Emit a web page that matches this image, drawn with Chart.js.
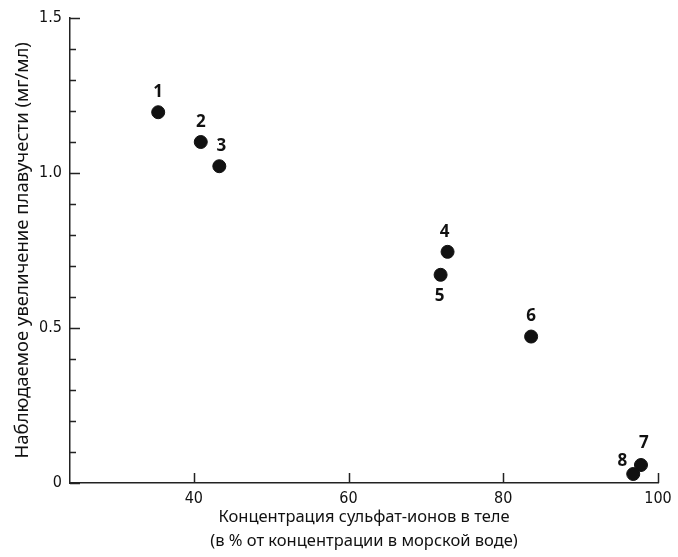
<!DOCTYPE html>
<html>
<head>
<meta charset="utf-8">
<script src="https://cdn.jsdelivr.net/npm/chart.js@4"></script>
<style>
  html, body { margin: 0; padding: 0; background: #fff; }
  #wrap { width: 678px; height: 557px; }
</style>
</head>
<body>
<div id="wrap"><canvas id="myChart"></canvas></div>
<script>
// данные с рисунка
var sulfat = [35.4, 40.9, 43.3, 72.8, 71.9, 83.6, 97.8, 96.8];
var plavuchest = [1.195, 1.099, 1.021, 0.745, 0.671, 0.472, 0.058, 0.029];
var nomera = ['1', '2', '3', '4', '5', '6', '7', '8'];
var xTicks = [40, 60, 80, 100];
var yTicks = [0, 0.5, 1.0, 1.5];
var yLabels = ['0', '0.5', '1.0', '1.5'];

var points = [];
for (let i = 0; i < sulfat.length; i++) {
    points.push({x: sulfat[i], y: plavuchest[i]});
}

// сдвиг подписей относительно точки
var sdvig = {
    '1': [0, -20], '2': [0, -20], '3': [2, -20], '4': [-3, -20],
    '5': [-1, 21], '6': [0, -20], '7': [3, -22], '8': [-11, -13]
};

var tickFont = "'DejaVu Sans Condensed', 'Liberation Sans Narrow', sans-serif";
var textFont = "'Noto Sans', sans-serif";

// тики внутрь, как в оригинале
var vnutrTiki = {
    id: 'vnutrTiki',
    afterDraw(chart) {
        var c = chart.ctx;
        var xs = chart.scales.x, ys = chart.scales.y;
        var a = chart.chartArea;
        c.save();
        c.strokeStyle = '#222';
        c.lineWidth = 1.5;
        c.beginPath();
        for (let v = 0; v <= 1.5001; v += 0.1) {
            let py = Math.round(ys.getPixelForValue(v)) + 0.5;
            let major = Math.abs(v * 2 - Math.round(v * 2)) < 1e-6;
            c.moveTo(a.left, py);
            c.lineTo(a.left + (major ? 10 : 6), py);
        }
        xTicks.forEach(function (v) {
            let px = Math.round(xs.getPixelForValue(v)) + 0.5;
            c.moveTo(px, a.bottom);
            c.lineTo(px, a.bottom - 10);
        });
        c.stroke();
        c.restore();
    }
};

var podpisi = {
    id: 'podpisi',
    afterDatasetsDraw(chart) {
        var c = chart.ctx;
        var meta = chart.getDatasetMeta(0);
        c.save();
        c.fillStyle = '#111';
        c.font = "bold 17px 'Open Sans', sans-serif";
        c.textAlign = 'center';
        c.textBaseline = 'middle';
        meta.data.forEach(function (el, i) {
            let d = sdvig[nomera[i]];
            c.fillText(nomera[i], el.x + d[0], el.y + d[1]);
        });
        c.restore();
    }
};

var ctx = document.getElementById('myChart');

var myChart = new Chart(ctx, {
    type: 'scatter',
    data: {
        datasets: [{
            data: points,
            backgroundColor: '#111',
            borderColor: '#111',
            pointRadius: 6.5,
            pointHoverRadius: 6.5
        }]
    },
    options: {
        responsive: true,
        maintainAspectRatio: false,
        animation: false,
        layout: {
            padding: {top: 16, right: 20, left: 12, bottom: 4}
        },
        plugins: {
            legend: {display: false},
            tooltip: {enabled: false}
        },
        scales: {
            x: {
                type: 'linear',
                min: 24,
                max: 100,
                afterBuildTicks: function (s) {
                    s.ticks = xTicks.map(function (v) { return {value: v}; });
                },
                afterFit: function (s) { s.height = 70; },
                grid: {display: false, drawTicks: false},
                border: {display: true, color: '#222', width: 1.5},
                ticks: {
                    color: '#111',
                    padding: 6,
                    maxRotation: 0,
                    font: {family: tickFont, size: 16}
                },
                title: {
                    display: true,
                    text: ['Концентрация сульфат-ионов в теле', '(в % от концентрации в морской воде)'],
                    color: '#111',
                    padding: {top: 2, bottom: 0},
                    font: {family: textFont, size: 16.5, lineHeight: 1.45}
                }
            },
            y: {
                min: 0,
                max: 1.5,
                afterBuildTicks: function (s) {
                    s.ticks = yTicks.map(function (v) { return {value: v}; });
                },
                afterFit: function (s) { s.width = 58; },
                grid: {display: false, drawTicks: false},
                border: {display: true, color: '#222', width: 1.5},
                ticks: {
                    color: '#111',
                    padding: 8,
                    font: {family: tickFont, size: 16},
                    callback: function (v) {
                        let i = yTicks.indexOf(v);
                        return i >= 0 ? yLabels[i] : '';
                    }
                },
                title: {
                    display: true,
                    text: 'Наблюдаемое увеличение плавучести (мг/мл)',
                    color: '#111',
                    padding: {top: 0, bottom: 0},
                    font: {family: textFont, size: 18.5}
                }
            }
        }
    },
    plugins: [vnutrTiki, podpisi]
});
</script>
</body>
</html>
